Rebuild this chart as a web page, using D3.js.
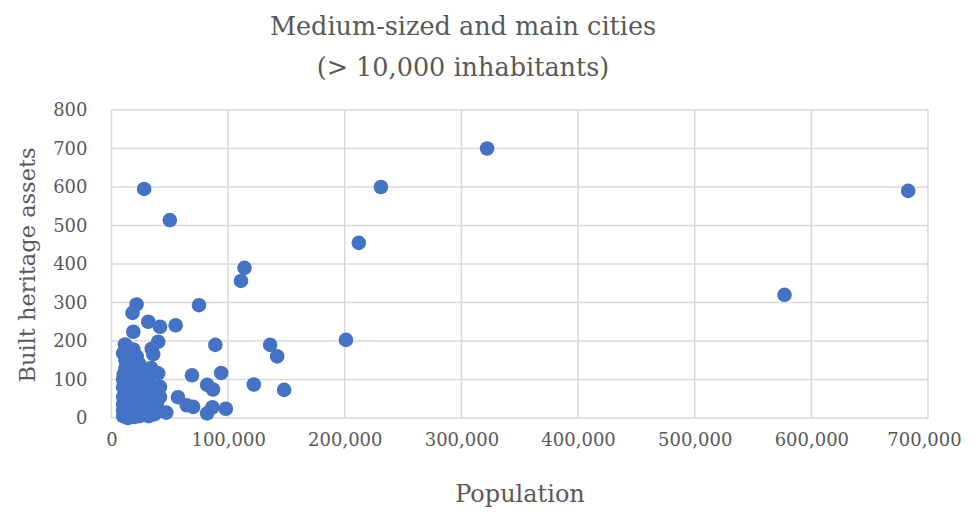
<!DOCTYPE html>
<html>
<head>
<meta charset="utf-8">
<script src="https://cdn.jsdelivr.net/npm/d3@7"></script>
<style>
  html, body { margin: 0; padding: 0; background: #fff; }
  svg { display: block; }
</style>
</head>
<body>
<svg id="chart" width="977" height="512"></svg>
<script>
const titleLines = ["Medium-sized and main cities", "(> 10,000 inhabitants)"];
const xLabel = "Population";
const yLabel = "Built heritage assets";
const xTicks = [0, 100000, 200000, 300000, 400000, 500000, 600000, 700000];
const yTicks = [0, 100, 200, 300, 400, 500, 600, 700, 800];

const population = [
  322000, 231000, 212000, 683000, 577000, 28000, 50000, 114000, 111000, 75000,
  21500, 18000, 31500, 41600, 55000, 18700, 201000, 136000, 142000, 89000,
  11600, 10000, 18700, 21600, 34500, 40000, 35800, 10500, 23000, 23000,
  40000, 41600, 69000, 94000, 82000, 87000, 122000, 148000, 41600, 39000,
  57000, 64500, 70000, 82000, 86500, 98000, 47000, 36000,
  10000, 10000, 10000, 10000, 10000, 10000,
  12000, 12000, 12000, 12000, 12000,
  14000, 14000, 14000, 14000, 14000, 14000,
  16000, 16000, 16000, 16000, 16000,
  18000, 18000, 18000, 18000, 18000,
  20000, 20000, 20000, 20000, 20000,
  22000, 22000, 22000, 22000,
  24000, 24000, 24000, 24000, 24000,
  26000, 26000, 26000, 26000,
  28000, 28000, 28000, 28000,
  30000, 30000, 30000, 30000,
  32000, 32000, 32000,
  34000, 34000, 34000,
  37000, 37000, 37000
];
const assets = [
  700, 600, 455, 590, 320, 595, 514, 390, 356, 293,
  295, 273, 250, 237, 241, 224, 203, 190, 160, 190,
  191, 168, 178, 160, 180, 198, 166, 113, 125, 99,
  116, 81, 111, 117, 86, 74, 87, 73, 55, 38,
  54, 33, 29, 12, 28, 24, 14, 16,
  5, 20, 35, 55, 80, 100,
  10, 45, 70, 130, 150,
  0, 25, 60, 90, 115, 140,
  8, 40, 75, 105, 160,
  15, 50, 85, 120, 145,
  3, 30, 65, 95, 130,
  12, 45, 80, 110,
  5, 35, 60, 90, 140,
  20, 50, 75, 105,
  8, 40, 65, 125,
  15, 30, 55, 85,
  5, 45, 95,
  20, 60, 130,
  10, 35, 75
];

const points = population.map((p, i) => ({ x: p, y: assets[i] }));

const svg = d3.select("#chart");
const font = "'DejaVu Serif', 'Liberation Serif', serif";
const textColor = "#595959";
const gridColor = "#d9d9d9";

const pLeft = 111.5, pRight = 928, pTop = 110, pBottom = 418;
const x = d3.scaleLinear().domain([0, 700000]).range([pLeft, pRight]);
const y = d3.scaleLinear().domain([0, 800]).range([pBottom, pTop]);

svg.append("g").selectAll("line").data(yTicks).join("line")
  .attr("x1", pLeft).attr("x2", pRight)
  .attr("y1", d => y(d)).attr("y2", d => y(d))
  .attr("stroke", gridColor).attr("stroke-width", 1.5);
svg.append("g").selectAll("line").data(xTicks).join("line")
  .attr("y1", pTop).attr("y2", pBottom)
  .attr("x1", d => x(d)).attr("x2", d => x(d))
  .attr("stroke", gridColor).attr("stroke-width", 1.5);

const fmt = d3.format(",");
const xAxis = svg.append("g").attr("transform", `translate(0,${pBottom})`)
  .call(d3.axisBottom(x).tickValues(xTicks).tickFormat(d => fmt(d)).tickSize(0).tickPadding(15));
const yAxis = svg.append("g").attr("transform", `translate(${pLeft},0)`)
  .call(d3.axisLeft(y).tickValues(yTicks).tickSize(0).tickPadding(24));
[xAxis, yAxis].forEach(a => {
  a.select(".domain").remove();
  a.selectAll("text").attr("font-family", font).attr("font-size", 18).attr("fill", textColor);
});
xAxis.selectAll(".tick").filter(d => d === 700000).select("text").attr("dx", -4);

svg.append("g").selectAll("circle").data(points).join("circle")
  .attr("cx", d => x(d.x)).attr("cy", d => y(d.y)).attr("r", 7.3)
  .attr("fill", "#4472C4");

svg.append("g").selectAll("text").data(titleLines).join("text")
  .attr("x", 463).attr("y", (d, i) => 35 + i * 41)
  .attr("text-anchor", "middle")
  .attr("font-family", font).attr("font-size", 25.5).attr("fill", textColor)
  .text(d => d);

svg.append("text").attr("x", 520).attr("y", 502)
  .attr("text-anchor", "middle")
  .attr("font-family", font).attr("font-size", 24).attr("fill", textColor)
  .text(xLabel);

svg.append("text")
  .attr("transform", `translate(35,265) rotate(-90)`)
  .attr("text-anchor", "middle")
  .attr("font-family", font).attr("font-size", 22.5).attr("fill", textColor)
  .text(yLabel);
</script>
</body>
</html>
